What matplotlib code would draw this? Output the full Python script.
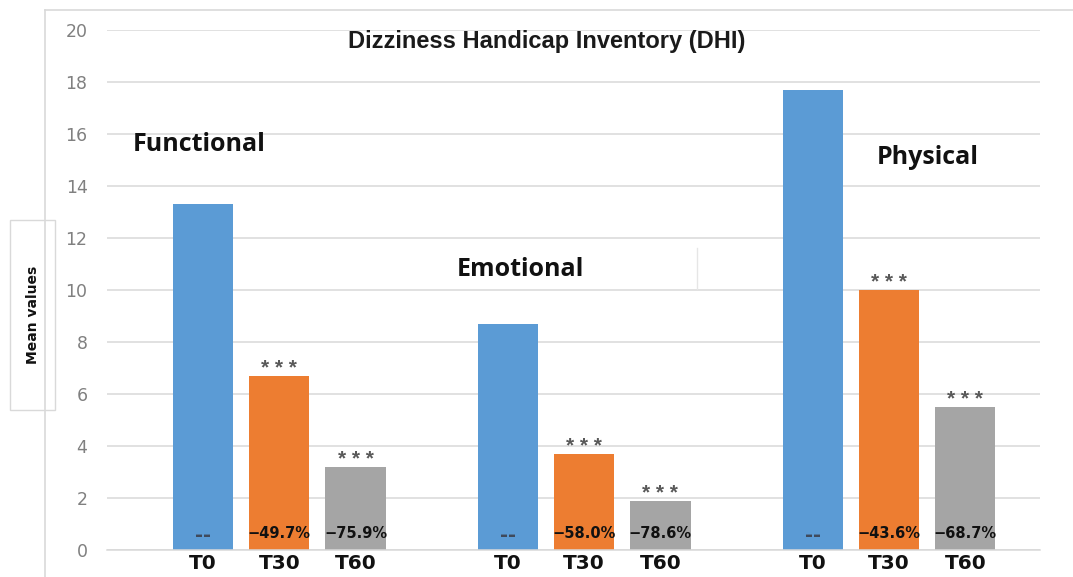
import matplotlib.pyplot as plt
from matplotlib.patches import Rectangle
from matplotlib.lines import Line2D
import numpy as np

# data
groups = ["Functional", "Emotional", "Physical"]
timepoints = ["T0", "T30", "T60"]
t0_means = [13.3, 8.7, 17.7]
t30_means = [6.7, 3.7, 10.0]
t60_means = [3.2, 1.9, 5.5]
t0_labels = ["--", "--", "--"]
t30_labels = ["\u221249.7%", "\u221258.0%", "\u221243.6%"]
t60_labels = ["\u221275.9%", "\u221278.6%", "\u221268.7%"]
t30_sig = ["* * *", "* * *", "* * *"]
t60_sig = ["* * *", "* * *", "* * *"]

colors = ["#5B9BD5", "#ED7D31", "#A5A5A5"]

fig = plt.figure(figsize=(10.73, 5.77), dpi=100)
ax = fig.add_axes([107 / 1073, 27 / 577, 933 / 1073, 520 / 577])

# outer chart frame (light gray)
fig.add_artist(Line2D([45 / 1073, 45 / 1073], [0, 1 - 10 / 577], transform=fig.transFigure,
                      color="#d9d9d9", lw=1.2))
fig.add_artist(Line2D([45 / 1073, 1], [1 - 10 / 577, 1 - 10 / 577], transform=fig.transFigure,
                      color="#d9d9d9", lw=1.2))

series = [t0_means, t30_means, t60_means]
labels = [t0_labels, t30_labels, t60_labels]
sigs = [None, t30_sig, t60_sig]

width = 0.79
xticks = []
xticklabels = []
for g in range(len(groups)):
    for t in range(len(timepoints)):
        x = g * 4 + t
        v = series[t][g]
        ax.bar(x, v, width=width, color=colors[t], zorder=2)
        xticks.append(x)
        xticklabels.append(timepoints[t])
        if t == 0:
            ax.text(x, 0.55, labels[t][g], ha="center", va="center", fontsize=14,
                    fontweight="bold", color="#3f4a5c", zorder=3)
        else:
            ax.text(x, 0.65, labels[t][g], ha="center", va="center", fontsize=10.5,
                    fontweight="bold", color="#111111", zorder=3)
        if sigs[t] is not None:
            ax.text(x, v + 0.08, sigs[t][g], ha="center", va="baseline", fontsize=15,
                    family="Liberation Sans", fontweight="bold", color="#595959", zorder=3)

ax.set_xlim(-1.26, 10.98)
ax.set_ylim(0, 20)
ax.set_yticks(np.arange(0, 21, 2))
ax.set_xticks(xticks)
ax.set_xticklabels(xticklabels, fontsize=14.5, fontweight="bold", color="#111111")
ax.tick_params(axis="x", length=0, pad=3)
ax.tick_params(axis="y", length=0, pad=14, labelsize=12.5, labelcolor="#808080")
ax.yaxis.grid(True, color="#d9d9d9", lw=1.1, zorder=0)
ax.set_axisbelow(True)
for s in ["top", "right", "left"]:
    ax.spines[s].set_visible(False)
ax.spines["bottom"].set_color("#d9d9d9")
ax.spines["bottom"].set_linewidth(1.1)

# title
ax.text(4.51, 19.54, "Dizziness Handicap Inventory (DHI)", ha="center", va="center",
        fontsize=17, fontweight="bold", family="Liberation Sans", color="#1a1a1a")

# group labels
ax.text(-0.05, 15.6, groups[0], ha="center", va="center", fontsize=18,
        fontweight="bold", family="Open Sans", color="#111111")
ax.text(4.17, 10.77, groups[1], ha="center", va="center", fontsize=18,
        fontweight="bold", family="Open Sans", color="#111111")
ax.text(9.51, 15.1, groups[2], ha="center", va="center", fontsize=18,
        fontweight="bold", family="Open Sans", color="#111111")
# faint edge of the pasted label patch
ax.plot([6.48, 6.48], [10.05, 11.6], color="#e6e6e6", lw=1.0, zorder=1)

# y label in its own box
fig.add_artist(Rectangle((10 / 1073, 1 - 410 / 577), 45 / 1073, 190 / 577,
                         transform=fig.transFigure, facecolor="white",
                         edgecolor="#d9d9d9", lw=1.0))
fig.text(33 / 1073, 1 - 315 / 577, "Mean values", rotation=90, ha="center", va="center",
         fontsize=10, fontweight="bold", color="#111111")

fig.savefig("out.png", dpi=100)
